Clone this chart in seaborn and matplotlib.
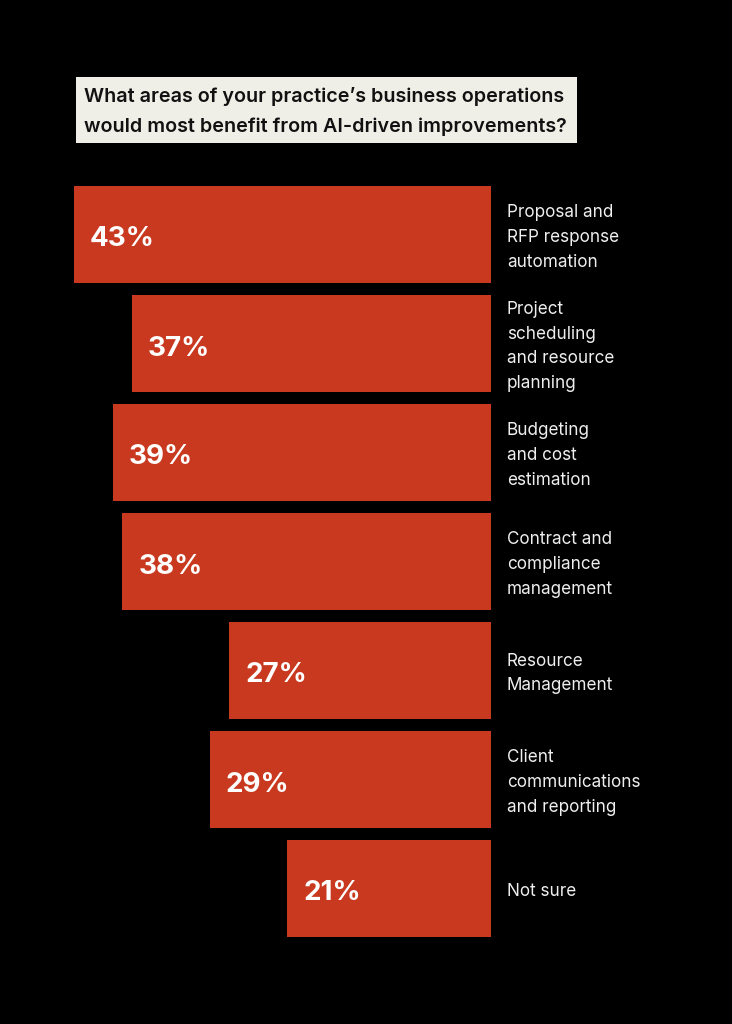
import matplotlib
matplotlib.use("Agg")
import matplotlib.pyplot as plt
import seaborn as sns
import pandas as pd
from matplotlib.patches import Rectangle

# --- data ---
categories = [
    "Proposal and\nRFP response\nautomation",
    "Project\nscheduling\nand resource\nplanning",
    "Budgeting\nand cost\nestimation",
    "Contract and\ncompliance\nmanagement",
    "Resource\nManagement",
    "Client\ncommunications\nand reporting",
    "Not sure",
]
values = [43, 37, 39, 38, 27, 29, 21]
title_lines = [
    "What areas of your practice\u2019s business operations",
    "would most benefit from AI-driven improvements?",
]

BAR_COLOR = "#C8391F"
BG = "#000000"

sns.set_theme(style="white")
plt.rcParams["font.family"] = ["Inter", "DejaVu Sans"]

df = pd.DataFrame({"area": categories, "pct": values})

fig = plt.figure(figsize=(7.32, 10.24), dpi=100, facecolor=BG)
ax = fig.add_axes([0, 0, 1, 1])
ax.set_facecolor(BG)

sns.barplot(data=df, x="pct", y="area", orient="h", color=BAR_COLOR,
            saturation=1, width=0.89, linewidth=0, edgecolor="none", ax=ax)

# pixel mapping: zero at x=491px, 9.7 px per percent; rows 109px apart
px = 9.7
row = 109
ax.set_xlim(491 / px, (491 - 732) / px)
ax.set_ylim((1024 - 234.5) / row, -234.5 / row)
ax.axis("off")

for i, (cat, v) in enumerate(zip(categories, values)):
    ax.text(v - 16 / px, i + 5 / row, f"{v}%", ha="left", va="center",
            color="white", fontsize=20, fontweight="bold")
    ax.text(-16 / px, i + 3 / row, cat, ha="left", va="center", color="#EFEFEF",
            fontsize=12.3, linespacing=1.58)

# title box
fig.patches.append(Rectangle((76 / 732, 1 - 143 / 1024), (577 - 76) / 732,
                             (143 - 77) / 1024, transform=fig.transFigure,
                             facecolor="#EFEEE7", edgecolor="none", zorder=1))
fig.text(84 / 732, 1 - 97 / 1024, title_lines[0], ha="left", va="center",
         fontsize=14.2, fontweight="semibold", color="#111111", zorder=2)
fig.text(84 / 732, 1 - 127 / 1024, title_lines[1], ha="left", va="center",
         fontsize=14.2, fontweight="semibold", color="#111111", zorder=2)

fig.savefig("out.png", dpi=100, facecolor=BG)
